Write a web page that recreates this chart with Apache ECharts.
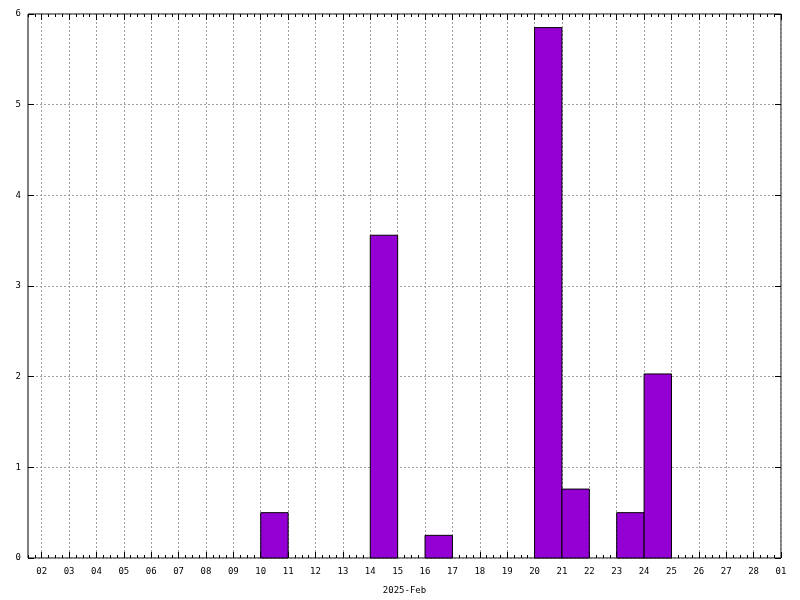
<!DOCTYPE html>
<html>
<head>
<meta charset="utf-8">
<script src="https://cdn.jsdelivr.net/npm/echarts@6/dist/echarts.min.js"></script>
<style>html,body{margin:0;padding:0;background:#fff;}#c{width:800px;height:600px;}</style>
</head>
<body>
<div id="c"></div>
<script>
// Data
const barDays = [10, 14, 16, 20, 21, 23, 24];
const barValues = [0.5, 3.56, 0.25, 5.85, 0.76, 0.5, 2.03];
const tickDays = [2,3,4,5,6,7,8,9,10,11,12,13,14,15,16,17,18,19,20,21,22,23,24,25,26,27,28,29];
const tickLabels = ['02','03','04','05','06','07','08','09','10','11','12','13','14','15','16','17','18','19','20','21','22','23','24','25','26','27','28','01'];
const xTitle = '2025-Feb';
const xMin = 1.5, xMax = 29;
const yMin = 0, yMax = 6, yStep = 1;

const minorTicks = [];
for (let i = 0; i * 0.25 + xMin <= xMax; i++) minorTicks.push(xMin + i * 0.25);

const font = 'DejaVu Sans Mono';
const labelMap = {};
tickDays.forEach((d, i) => labelMap[d] = tickLabels[i]);

const chart = echarts.init(document.getElementById('c'), null, {renderer: 'canvas'});
const dash = {color: '#a0a0a0', type: [2, 2], width: 1};
const blk = {color: '#000', width: 1};

function majorX(pos, showLabel, showSplit) {
  return {
    type: 'value', position: pos, min: xMin, max: xMax, offset: 0,
    axisLine: {show: false},
    axisTick: {show: true, inside: true, length: 6, lineStyle: blk, customValues: tickDays},
    axisLabel: {show: showLabel, customValues: tickDays, margin: 9, color: '#000',
      fontFamily: font, fontSize: 9, formatter: v => labelMap[v] || ''},
    splitLine: {show: showSplit, lineStyle: dash},
    name: showLabel ? xTitle : '', nameLocation: 'middle', nameGap: 28,
    nameTextStyle: {fontFamily: font, fontSize: 9, color: '#000'}
  };
}
function minorX(pos) {
  return {
    type: 'value', position: pos, min: xMin, max: xMax, offset: 0,
    axisLine: {show: false},
    axisTick: {show: true, inside: true, length: 3, lineStyle: blk, customValues: minorTicks},
    axisLabel: {show: false}, splitLine: {show: false}
  };
}

chart.setOption({
  animation: false,
  backgroundColor: '#fff',
  grid: {left: 28, right: 19, top: 14, bottom: 42, show: true, borderColor: '#000', borderWidth: 1, containLabel: false},
  xAxis: [majorX('bottom', true, true), minorX('bottom'), majorX('top', false, false), minorX('top')],
  yAxis: [
    {type: 'value', position: 'left', min: yMin, max: yMax, interval: yStep,
      axisLine: {show: false},
      axisTick: {show: true, inside: true, length: 6, lineStyle: blk},
      axisLabel: {margin: 7, color: '#000', fontFamily: font, fontSize: 9},
      splitLine: {show: true, lineStyle: dash}},
    {type: 'value', position: 'right', min: yMin, max: yMax, interval: yStep,
      axisLine: {show: false},
      axisTick: {show: true, inside: true, length: 6, lineStyle: blk},
      axisLabel: {show: false}, splitLine: {show: false}}
  ],
  series: [{
    type: 'custom', xAxisIndex: 0, yAxisIndex: 0,
    data: barDays.map((d, i) => [d, barValues[i]]),
    renderItem: function (params, api) {
      const x0 = api.value(0), y = api.value(1);
      const p0 = api.coord([x0, y]);
      const p1 = api.coord([x0 + 1, 0]);
      return {type: 'rect', shape: {x: p0[0], y: p0[1], width: p1[0] - p0[0], height: p1[1] - p0[1]},
        style: {fill: '#9400d3', stroke: '#000', lineWidth: 1}};
    }
  }]
});
</script>
</body>
</html>
